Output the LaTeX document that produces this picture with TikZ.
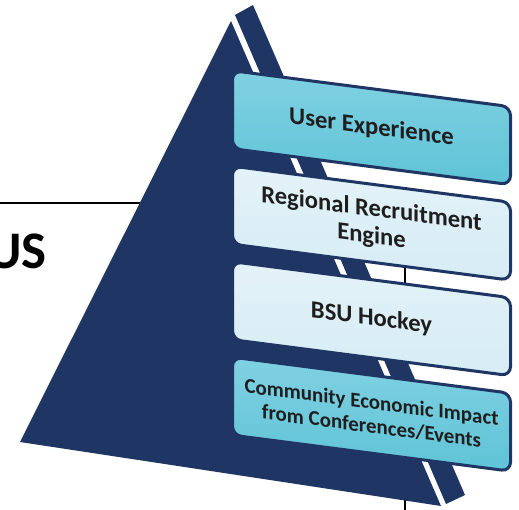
\documentclass[tikz,border=0pt]{standalone}
\usepackage{fontspec}
\setmainfont{Carlito}
\usepackage{tikz}
\usetikzlibrary{positioning}

\definecolor{navy}{HTML}{1F3564}
\definecolor{aqua}{HTML}{5FC3D7}
\definecolor{aquatop}{HTML}{80D1E2}
\definecolor{pale}{HTML}{D6ECF4}
\definecolor{paletop}{HTML}{E3F2F8}
\definecolor{ink}{HTML}{1E1E1E}

\begin{document}
\begin{tikzpicture}[x=1bp, y=-1bp, node distance=14.5bp, auto]
	\tikzset{
		mybox/.style={rectangle, rounded corners=9bp, draw=navy, line width=3bp, minimum width=278bp, minimum height=78bp, inner sep=2bp, align=center, text=ink, font=\bfseries\fontsize{24.7}{27}\selectfont},
		darkbox/.style={mybox, top color=aquatop, bottom color=aqua},
		lightbox/.style={mybox, top color=paletop, bottom color=pale},
		myrule/.style={black, line width=2bp}
	}
	\useasboundingbox (0,0) rectangle (519,510);

	% lines behind the pyramid
	\draw[myrule] (0,203) -- (150,203);
	\draw[myrule, line width=1.5bp] (405,255) -- (405,285);
	\draw[myrule, line width=1.5bp] (405,480) -- (405,510);
	\node[font=\bfseries\fontsize{53}{53}\selectfont, anchor=base east, inner sep=0pt] (us) at (47,268) {US};

	% pyramid faces
	\fill[navy] (20,442) -- (231,21) -- (441,506) -- cycle;
	\fill[navy] (235,15) -- (253,5) -- (465,495) -- (446,504) -- cycle;

	\begin{scope}[shift={(231,0)}, yslant=-0.1295, transform shape]
		\node[darkbox, anchor=north west] (ux) at (0,69) {User Experience};
		\node[lightbox, below=of ux] (recruit) {Regional Recruitment\\Engine};
		\node[lightbox, below=of recruit] (hockey) {BSU Hockey};
		\node[darkbox, below=of hockey, font=\bfseries\fontsize{21}{24}\selectfont] (impact) {Community Economic Impact\\from Conferences/Events};
	\end{scope}
\end{tikzpicture}
\end{document}
